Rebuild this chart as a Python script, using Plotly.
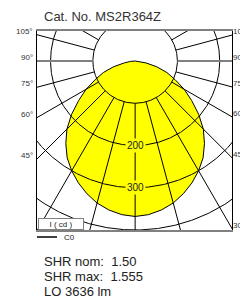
import numpy as np
import plotly.graph_objects as go

# ---- data -------------------------------------------------------------
title_text = "Cat. No. MS2R364Z"
angles_deg = [0, 5, 10, 15, 20, 25, 30, 35, 40, 45, 50, 55, 60, 65, 70, 75, 80, 85, 90]
intensity_cd = [368, 365, 358, 348, 334, 318, 300, 280, 255, 228, 196, 163, 134, 104, 80, 53, 26, 11, 0]
circle_values = [100, 200, 300, 400]
circle_labels = ["200", "300"]
radial_angles = list(range(-165, 181, 15))
angle_tick_labels = [105, 90, 75, 60, 45, 30]
info_lines = ["SHR nom:&nbsp; 1.50", "SHR max:&nbsp; 1.555", "LO 3636 lm"]
series_name = "C0"
unit_label = "I ( cd )"

# ---- geometry ----------------------------------------------------------
X_RANGE = [-232, 229]
Y_RANGE = [-400, 71]
FONT = "Liberation Sans, Arial, sans-serif"

ang = np.array(angles_deg, dtype=float)
val = np.array(intensity_cd, dtype=float)
th = np.radians(np.concatenate([-ang[::-1], ang[1:]]))
ii = np.concatenate([val[::-1], val[1:]])
cx = ii * np.sin(th)
cy = -ii * np.cos(th)

fig = go.Figure()

# yellow fill
fig.add_trace(go.Scatter(x=cx, y=cy, mode="lines", fill="toself",
                         fillcolor="#FFFF00", line=dict(width=0, color="#FFFF00"),
                         hoverinfo="skip", showlegend=False))

# circles
t = np.linspace(0, 2 * np.pi, 721)
gx, gy = [], []
for r in circle_values:
    gx += list(r * np.cos(t)) + [None]
    gy += list(r * np.sin(t)) + [None]
fig.add_trace(go.Scatter(x=gx, y=gy, mode="lines", line=dict(color="black", width=1),
                         hoverinfo="skip", showlegend=False))

# radial lines
rx, ry, hx, hy = [], [], [], []
r_in, r_out = circle_values[0], 2000
for a in radial_angles:
    ar = np.radians(a)
    xs = [r_in * np.sin(ar), r_out * np.sin(ar), None]
    ys = [-r_in * np.cos(ar), -r_out * np.cos(ar), None]
    if abs(a) == 90:
        hx += xs; hy += ys
    else:
        rx += xs; ry += ys
fig.add_trace(go.Scatter(x=rx, y=ry, mode="lines", line=dict(color="black", width=1),
                         hoverinfo="skip", showlegend=False))
fig.add_trace(go.Scatter(x=hx, y=hy, mode="lines", line=dict(color="#808080", width=2),
                         hoverinfo="skip", showlegend=False))

# outline of the curve
fig.add_trace(go.Scatter(x=cx, y=cy, mode="lines", line=dict(color="black", width=1),
                         name=series_name, hoverinfo="skip", showlegend=False))

annotations = []
# circle value labels at nadir
for lab in circle_labels:
    annotations.append(dict(x=0, y=-float(lab), xref="x", yref="y", text=lab,
                            showarrow=False, font=dict(family=FONT, size=10, color="#222"),
                            bgcolor="#FFFF00", borderpad=1))

# angle labels on both sides
for a in angle_tick_labels:
    ar = np.radians(a)
    yl = -abs(X_RANGE[0]) * np.cos(ar) / np.sin(ar)
    yr = -abs(X_RANGE[1]) * np.cos(ar) / np.sin(ar)
    annotations.append(dict(x=0, xref="paper", y=yl, yref="y", text=f"{a}°",
                            xanchor="right", yanchor="middle", xshift=-2, yshift=3.5,
                            showarrow=False, font=dict(family=FONT, size=8, color="#333")))
    annotations.append(dict(x=1, xref="paper", y=yr, yref="y", text=f"{a}°",
                            xanchor="left", yanchor="middle", xshift=-1, yshift=3.5,
                            showarrow=False, font=dict(family=FONT, size=8, color="#333")))

# unit box
annotations.append(dict(x=0, y=0, xref="paper", yref="paper", xanchor="left", yanchor="bottom",
                        text=unit_label, showarrow=False, width=44, height=10, align="center",
                        font=dict(family=FONT, size=8, color="#222"),
                        bgcolor="white", bordercolor="#808080", borderwidth=1, borderpad=0,
                        xshift=1))

# legend text
annotations.append(dict(x=25 / 195, y=-7 / 199, xref="paper", yref="paper", xanchor="left",
                        yanchor="middle", text=series_name, showarrow=False,
                        font=dict(family=FONT, size=8, color="#222")))

# title
annotations.append(dict(x=4.7 / 195, y=(230 - 16.5) / 199, xref="paper", yref="paper",
                        xanchor="left", yanchor="middle", text=title_text, showarrow=False,
                        font=dict(family=FONT, size=13, color="#333")))

# info lines
for k, line in enumerate(info_lines):
    annotations.append(dict(x=4.7 / 195, y=(230 - (261.7 + 15 * k)) / 199, xref="paper",
                            yref="paper", xanchor="left", yanchor="middle", text=line,
                            showarrow=False, font=dict(family=FONT, size=13, color="#222")))

shapes = [dict(type="line", xref="paper", yref="paper", x0=0, x1=20 / 195,
               y0=-7 / 199, y1=-7 / 199, line=dict(color="black", width=1.5))]

fig.update_layout(
    width=240, height=299, autosize=False,
    margin=dict(l=37, r=8, t=31, b=69, pad=0),
    paper_bgcolor="white", plot_bgcolor="white",
    showlegend=False,
    annotations=annotations, shapes=shapes,
    xaxis=dict(range=X_RANGE, showgrid=False, zeroline=False, showticklabels=False,
               ticks="", showline=True, mirror=True, linecolor="#808080", linewidth=2,
               fixedrange=True),
    yaxis=dict(range=Y_RANGE, showgrid=False, zeroline=False, showticklabels=False,
               ticks="", showline=True, mirror=True, linecolor="black", linewidth=1,
               fixedrange=True),
)

fig.write_html("out.html", config={"displayModeBar": False},
               post_script="document.body.style.margin='0';document.body.style.overflow='hidden';")
